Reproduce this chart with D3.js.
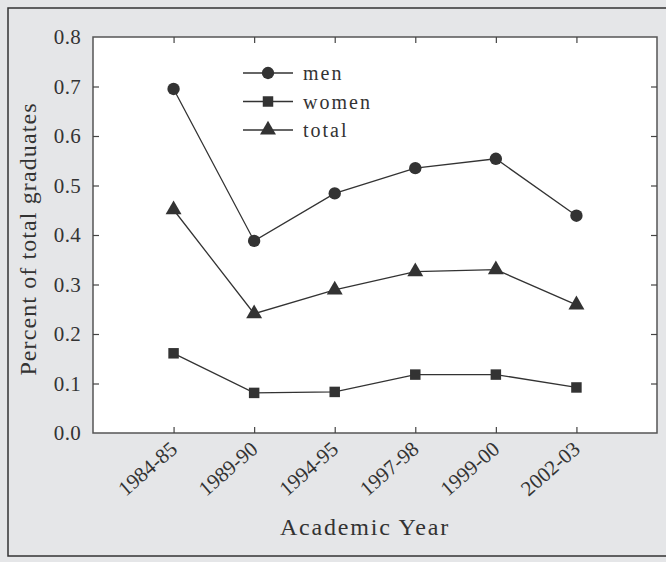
<!DOCTYPE html>
<html>
<head>
<meta charset="utf-8">
<script src="https://cdn.jsdelivr.net/npm/d3@7"></script>
<style>
  html, body { margin: 0; padding: 0; background: #e5e6e8; }
  svg { display: block; }
  text { font-family: "Liberation Serif", "Times New Roman", serif; fill: #333; }
</style>
</head>
<body>
<script>
// Academic years on the x axis
const years = ["1984-85", "1989-90", "1994-95", "1997-98", "1999-00", "2002-03"];
// Share of total graduates, by group
const men   = [0.695, 0.388, 0.484, 0.535, 0.554, 0.439];
const women = [0.161, 0.081, 0.083, 0.118, 0.118, 0.092];
const total = [0.451, 0.241, 0.289, 0.326, 0.330, 0.259];
const yTicks = [0.0, 0.1, 0.2, 0.3, 0.4, 0.5, 0.6, 0.7, 0.8];

const W = 666, H = 562;
const plot = { left: 93, top: 37, right: 657, bottom: 433 };

const svg = d3.select("body").append("svg").attr("width", W).attr("height", H);

// Outer frame
svg.append("rect").attr("width", W).attr("height", H).attr("fill", "#e5e6e8");
svg.append("rect")
  .attr("x", 8).attr("y", 8).attr("width", W + 10).attr("height", 548)
  .attr("fill", "none").attr("stroke", "#333").attr("stroke-width", 1.5);

const x = d3.scaleLinear().domain([0, years.length + 1]).range([plot.left, plot.right]);
const y = d3.scaleLinear().domain([0, 0.8]).range([plot.bottom, plot.top]);
const xi = (d, i) => x(i + 1);

// Plot area
svg.append("rect")
  .attr("x", plot.left).attr("y", plot.top)
  .attr("width", plot.right - plot.left).attr("height", plot.bottom - plot.top)
  .attr("fill", "#fff").attr("stroke", "#555").attr("stroke-width", 1.5);

const tickLen = 6;
const xTickVals = years.map((d, i) => i + 1);

// Inward ticks on all four sides
const axisStyle = g => {
  g.select(".domain").remove();
  g.selectAll(".tick line").attr("stroke", "#444").attr("stroke-width", 1.2);
};
svg.append("g").attr("transform", `translate(0,${plot.bottom})`)
  .call(d3.axisTop(x).tickValues(xTickVals).tickSize(tickLen).tickFormat(""))
  .call(axisStyle);
svg.append("g").attr("transform", `translate(0,${plot.top})`)
  .call(d3.axisBottom(x).tickValues(xTickVals).tickSize(tickLen).tickFormat(""))
  .call(axisStyle);
svg.append("g").attr("transform", `translate(${plot.left},0)`)
  .call(d3.axisRight(y).tickValues(yTicks.slice(1, -1)).tickSize(tickLen).tickFormat(""))
  .call(axisStyle);
svg.append("g").attr("transform", `translate(${plot.right},0)`)
  .call(d3.axisLeft(y).tickValues(yTicks.slice(1, -1)).tickSize(tickLen).tickFormat(""))
  .call(axisStyle);

// Y tick labels
svg.append("g").selectAll("text").data(yTicks).join("text")
  .attr("x", 81).attr("y", d => y(d))
  .attr("dy", "0.35em").attr("text-anchor", "end")
  .attr("font-size", 21).attr("letter-spacing", 0.3)
  .text(d => d3.format(".1f")(d));

// X tick labels, rotated
svg.append("g").selectAll("text").data(years).join("text")
  .attr("transform", (d, i) => `translate(${x(i + 1) + 5},${plot.bottom + 18}) rotate(-41)`)
  .attr("text-anchor", "end")
  .attr("font-size", 21)
  .text(d => d);

// Axis titles
svg.append("text")
  .attr("x", (plot.left + plot.right) / 2 - 10).attr("y", 535)
  .attr("text-anchor", "middle").attr("font-size", 24).attr("letter-spacing", 1.8)
  .text("Academic Year");
svg.append("text")
  .attr("transform", `translate(36,${(plot.top + plot.bottom) / 2 + 4}) rotate(-90)`)
  .attr("text-anchor", "middle").attr("font-size", 24).attr("letter-spacing", 1.1)
  .text("Percent of total graduates");

// Series
const series = [
  { name: "men", values: men, shape: d3.symbolCircle, size: 120 },
  { name: "women", values: women, shape: d3.symbolSquare, size: 110 },
  { name: "total", values: total, shape: d3.symbolTriangle, size: 110 }
];
const ink = "#333";
const line = d3.line().x(xi).y(d => y(d));

series.forEach(s => {
  svg.append("path").datum(s.values)
    .attr("d", line).attr("fill", "none")
    .attr("stroke", ink).attr("stroke-width", 1.3);
  svg.append("g").selectAll("path").data(s.values).join("path")
    .attr("transform", (d, i) => `translate(${xi(d, i)},${y(d)})`)
    .attr("d", d3.symbol().type(s.shape).size(s.size))
    .attr("fill", ink);
});

// Legend
const legend = svg.append("g").attr("transform", "translate(243,73)");
series.forEach((s, i) => {
  const g = legend.append("g").attr("transform", `translate(0,${i * 28.5})`);
  g.append("line").attr("x1", 0).attr("x2", 50).attr("y1", 0).attr("y2", 0)
    .attr("stroke", ink).attr("stroke-width", 1.3);
  g.append("path").attr("transform", "translate(25,0)")
    .attr("d", d3.symbol().type(s.shape).size(s.size)).attr("fill", ink);
  g.append("text").attr("x", 60).attr("y", 0).attr("dy", "0.35em")
    .attr("font-size", 20).attr("letter-spacing", 2)
    .text(s.name);
});
</script>
</body>
</html>
